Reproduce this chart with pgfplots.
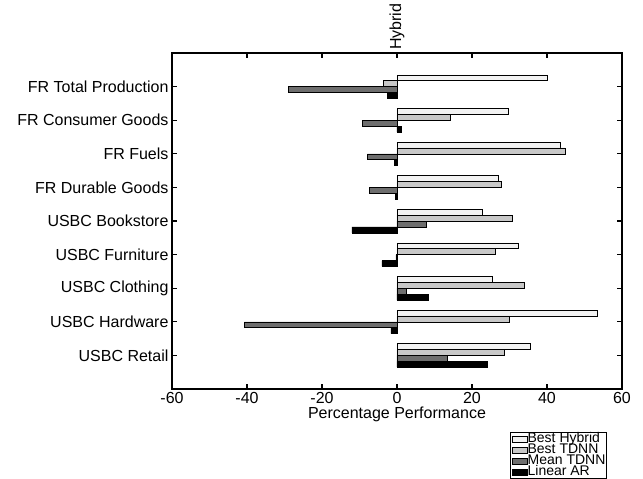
\documentclass[border=0pt]{standalone}
\usepackage{pgfplots}
\pgfplotsset{compat=1.18}
\usepackage{fontspec}
\setmainfont{Liberation Sans}
\definecolor{bh}{HTML}{F2F2F2}
\definecolor{bt}{HTML}{C8C8C8}
\definecolor{mt}{HTML}{6E6E6E}
\definecolor{la}{HTML}{000000}
\begin{document}
\begin{tikzpicture}
\begin{axis}[
  scale only axis,
  clip=false,
  width=450pt, height=336pt,
  xbar=0pt, bar width=5.9pt,
  xmin=-60, xmax=60, ymin=0, ymax=10,
  y dir=reverse,
  xtick={-60,-40,-20,0,20,40,60},
  ytick={1,2,3,4,5,6,7,8,9},
  yticklabels={FR Total Production,FR Consumer Goods,FR Fuels,FR Durable Goods,USBC Bookstore,USBC Furniture,USBC Clothing,USBC Hardware,USBC Retail},
  xtick pos=both, ytick pos=both,
  tick align=inside,
  major tick length=5pt,
  axis line style={line width=1.3pt},
  every tick/.style={black, line width=1.1pt},
  tick label style={font=\fontsize{16}{19}\selectfont},
  /pgf/number format/assume math mode=true,
  xlabel={Percentage Performance},
  xlabel style={font=\fontsize{16}{19}\selectfont, yshift=4pt},
  legend cell align=left,
  legend style={at={(0.9667,-0.128)}, anchor=north east,
    font=\fontsize{14}{14}\selectfont, draw=black, line width=0.6pt,
    inner sep=1pt, row sep=0pt,
    nodes={inner sep=0.3pt, text height=8.4pt, text depth=2pt}},
  legend image code/.code={\draw[#1, line width=0.6pt] (0pt,-3pt) rectangle (15pt,3pt);},
]
\addplot[draw=black, line width=0.6pt, fill=bh, bar shift=8.85pt] coordinates {
 (40,1) (29.7,2) (43.5,3) (27.0,4) (22.7,5) (32.4,6) (25.4,7) (53.4,8) (35.5,9)};
\addplot[draw=black, line width=0.6pt, fill=bt, bar shift=2.95pt] coordinates {
 (-3.6,1) (14.3,2) (44.8,3) (27.7,4) (30.7,5) (26.3,6) (34.0,7) (30.0,8) (28.6,9)};
\addplot[draw=black, line width=0.6pt, fill=mt, bar shift=-2.95pt] coordinates {
 (-29,1) (-9.2,2) (-7.9,3) (-7.4,4) (7.9,5) (-0.3,6) (2.5,7) (-40.7,8) (13.5,9)};
\addplot[draw=black, line width=0.6pt, fill=la, bar shift=-8.85pt] coordinates {
 (-2.5,1) (1.1,2) (-0.7,3) (-0.4,4) (-12,5) (-4.0,6) (8.3,7) (-1.6,8) (24.2,9)};
\legend{Best Hybrid, Best TDNN, Mean TDNN, Linear AR}
\node[rotate=90, anchor=west, inner sep=3pt, font=\fontsize{16}{19}\selectfont] at (axis description cs:0.5,1) {Hybrid};
\end{axis}
\path (current axis.south west) ++(-172pt,-90pt) rectangle ++(643pt,479pt);
\end{tikzpicture}
\end{document}
